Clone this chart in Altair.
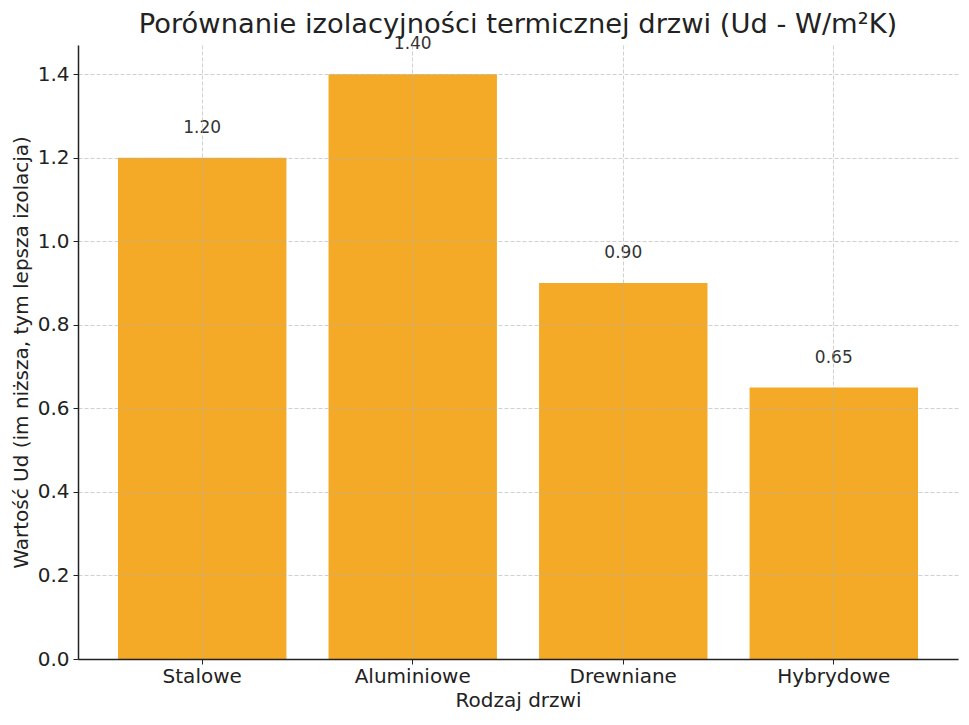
import altair as alt
import pandas as pd

categories = ["Stalowe", "Aluminiowe", "Drewniane", "Hybrydowe"]
values = [1.20, 1.40, 0.90, 0.65]
labels = ["1.20", "1.40", "0.90", "0.65"]
y_ticks = [0.0, 0.2, 0.4, 0.6, 0.8, 1.0, 1.2, 1.4]

df = pd.DataFrame({"Rodzaj": categories, "Ud": values, "label": labels})

FONT = "DejaVu Sans"

x = alt.X(
    "Rodzaj:N",
    sort=categories,
    title="Rodzaj drzwi",
    scale=alt.Scale(paddingInner=0.2, paddingOuter=0.19),
    axis=alt.Axis(
        labelAngle=0,
        labelFontSize=20,
        titleFontSize=20,
        labelColor="#222222",
        titleColor="#222222",
        labelPadding=2,
        titlePadding=4,
        tickSize=5,
        tickColor="#222222",
        domainColor="#222222",
        domainWidth=1.5,
        grid=True,
        gridDash=[4, 2],
        gridColor="#b0b0b0",
        gridOpacity=0.6,
        bandPosition=0.5,
        zindex=1,
    ),
)

y_scale = alt.Scale(domain=[0, 1.47], nice=False)

bars = alt.Chart(df).mark_bar(color="#F4AA26").encode(
    x=x,
    y=alt.Y(
        "Ud:Q",
        scale=y_scale,
        title="Wartość Ud (im niższa, tym lepsza izolacja)",
        axis=alt.Axis(
            values=y_ticks,
            format=".1f",
            labelFontSize=20,
            titleFontSize=20,
            labelColor="#222222",
            titleColor="#222222",
            labelPadding=4,
            titlePadding=6,
            tickSize=5,
            tickColor="#222222",
            domainColor="#222222",
            domainWidth=1.5,
            grid=True,
            gridDash=[4, 2],
            gridColor="#b0b0b0",
            gridOpacity=0.6,
            zindex=1,
        ),
    ),
)

text = alt.Chart(df).mark_text(
    baseline="bottom", dy=-21, fontSize=17, color="#333333", font=FONT
).encode(
    x=alt.X("Rodzaj:N", sort=categories),
    y=alt.Y("Ud:Q", scale=y_scale),
    text="label:N",
)

chart = (
    alt.layer(bars, text)
    .properties(
        width=880,
        height=614,
        title=alt.TitleParams(
            "Porównanie izolacyjności termicznej drzwi (Ud - W/m²K)",
            fontSize=27.3,
            fontWeight="normal",
            color="#222222",
            font=FONT,
            anchor="middle",
            offset=-3,
        ),
        autosize=alt.AutoSizeParams(type="none"),
        padding={"left": 70, "top": 37, "right": 3, "bottom": 57},
    )
    .configure(font=FONT)
    .configure_view(stroke=None)
    .configure_axis(labelFont=FONT, titleFont=FONT, titleFontWeight="normal")
)

chart.save("out.html", embed_options={"renderer": "svg", "actions": False})
